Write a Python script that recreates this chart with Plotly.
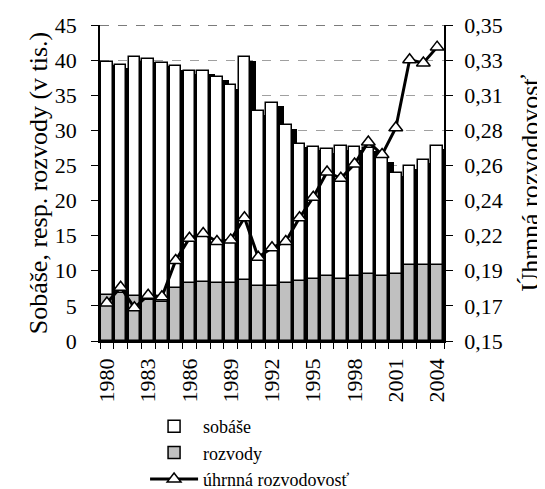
import plotly.graph_objects as go

years = list(range(1980, 2005))
sobase = [39.8, 39.3, 40.4, 40.2, 39.6, 39.1, 38.5, 38.5, 37.6, 36.4,
          40.4, 32.7, 33.9, 30.7, 28.1, 27.6, 27.3, 27.7, 27.6, 27.5,
          26.0, 23.9, 24.9, 25.8, 27.8]
rozvody = [6.5, 6.8, 6.4, 5.9, 5.6, 7.5, 8.2, 8.4, 8.2, 8.2,
           8.7, 7.8, 7.8, 8.2, 8.5, 8.9, 9.2, 8.9, 9.2, 9.5,
           9.2, 9.5, 10.8, 10.8, 10.8]
uhrnna = [0.174, 0.184, 0.171, 0.179, 0.178, 0.201, 0.215, 0.218, 0.213, 0.214,
          0.228, 0.203, 0.209, 0.213, 0.228, 0.241, 0.257, 0.253, 0.262, 0.276,
          0.268, 0.285, 0.328, 0.326, 0.336]
x_labels = [1980, 1983, 1986, 1989, 1992, 1995, 1998, 2001, 2004]
right_tick_text = ["0,15", "0,17", "0,19", "0,22", "0,24", "0,26", "0,28", "0,31", "0,33", "0,35"]

FONT = "Liberation Serif, Times New Roman, DejaVu Serif, serif"
BW = 0.836
SHADOW_DROP = 0.47

fig = go.Figure()
# depth shadow of the marriage bars
fig.add_trace(go.Bar(
    x=years, y=[v - SHADOW_DROP for v in sobase], width=BW, offset=-BW / 2 + 0.43,
    marker=dict(color="black", line=dict(width=0)), showlegend=False, hoverinfo="skip"))
fig.add_trace(go.Bar(
    x=years, y=sobase, width=BW, name="sobáše",
    marker=dict(color="white", line=dict(color="black", width=1.5))))
fig.add_trace(go.Bar(
    x=years, y=rozvody, width=BW, name="rozvody",
    marker=dict(color="#c0c0c0", line=dict(color="black", width=1.5))))
fig.add_trace(go.Scatter(
    x=years, y=uhrnna, yaxis="y2", mode="lines+markers", name="úhrnná rozvodovosť",
    line=dict(color="black", width=3),
    marker=dict(symbol="triangle-up", size=12, color="white", line=dict(color="black", width=1.5))))

W, H = 537, 481
fig.update_layout(
    width=W, height=H,
    margin=dict(l=92, r=101, t=17, b=148, autoexpand=False),
    paper_bgcolor="white", plot_bgcolor="white",
    barmode="overlay", bargap=0,
    font=dict(family=FONT, size=22, color="black"),
    showlegend=True,
    legend=dict(x=0.131, y=-0.212, xanchor="left", yanchor="top",
                font=dict(size=18), itemwidth=48, tracegroupgap=0,
                bgcolor="rgba(0,0,0,0)"),
    xaxis=dict(range=[1979.5, 2004.5], tickmode="array", tickvals=x_labels,
               ticktext=[str(v) for v in x_labels], tickangle=-90, ticks="",
               ticklabelstandoff=7,
               minor=dict(ticks="outside", tick0=1979.5, dtick=1, ticklen=6,
                          tickcolor="black", showgrid=False),
               showline=True, linecolor="black", linewidth=1.5, showgrid=False,
               zeroline=False),
    yaxis=dict(range=[0, 45], dtick=5, ticks="outside", ticklen=7, tickcolor="black",
               ticklabelstandoff=10,
               showline=True, linecolor="black", linewidth=1.5,
               showgrid=True, gridcolor="#a0a0a0", griddash="dash", gridwidth=1,
               zeroline=False,
               title=dict(text="Sobáše, resp. rozvody (v tis.)", standoff=0)),
    yaxis2=dict(range=[0.15, 0.35], overlaying="y", side="right",
                tickmode="array",
                tickvals=[0.15 + k * 0.2 / 9 for k in range(10)],
                ticktext=right_tick_text,
                ticks="outside", ticklen=7, tickcolor="black", ticklabelstandoff=7,
                showline=True, linecolor="black", linewidth=1.5,
                showgrid=False, zeroline=False,
                title=dict(text="Úhrnná rozvodovosť", standoff=28)),
)
fig.add_shape(type="line", xref="paper", yref="y", x0=0, x1=1, y0=45, y1=45,
              line=dict(color="#505050", width=1.5, dash="dash"))

fig.write_html("out.html")
